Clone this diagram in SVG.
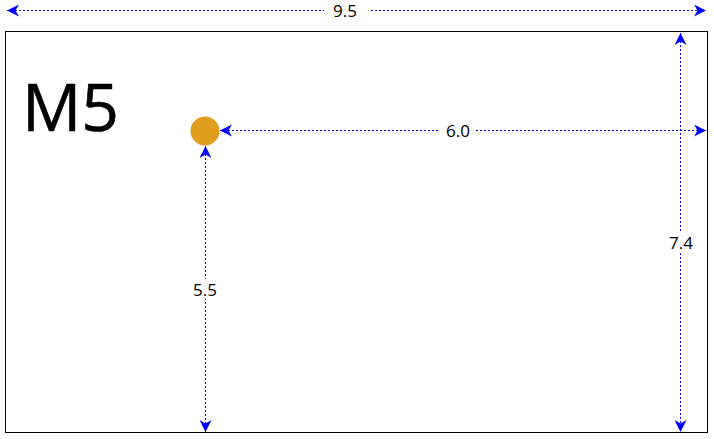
<svg xmlns="http://www.w3.org/2000/svg" width="714" height="439" viewBox="0 0 714 439">
<style>
.dim{stroke:#0000ff;stroke-width:1;stroke-dasharray:2,2;fill:none;marker-start:url(#ah);marker-end:url(#ah)}
.lbl{font-family:"Open Sans","Noto Sans",sans-serif;font-size:17px;fill:#000;text-anchor:middle}
.bg{fill:#fff}
</style>
<defs>
<marker id="ah" markerUnits="userSpaceOnUse" viewBox="0 0 12 12" refX="12" refY="6" markerWidth="12" markerHeight="12" orient="auto-start-reverse">
<path d="M0,0 L12,6 L0,12 L3.5,6 z" fill="#0000ff"/>
</marker>
</defs>
<rect x="0" y="0" width="714" height="439" fill="#fff"/>
<g id="plate">
<rect x="5.5" y="31.5" width="702" height="401" fill="none" stroke="#000" stroke-width="1"/>
<text x="22" y="131" font-family="'Open Sans','Noto Sans',sans-serif" font-size="66" fill="#000" stroke="#000" stroke-width="0.6">M5</text>
</g>
<g id="hole">
<circle cx="205" cy="131" r="14.5" fill="#e09e1e"/>
</g>
<g id="connectors">
<line class="dim" x1="7" y1="10.5" x2="706" y2="10.5"/>
<line class="dim" x1="220" y1="130.5" x2="706" y2="130.5"/>
<line class="dim" x1="680.5" y1="33" x2="680.5" y2="432"/>
<line class="dim" x1="205.5" y1="146" x2="205.5" y2="432"/>
</g>
<g id="labels">
<rect class="bg" x="324" y="1" width="45" height="20"/>
<text class="lbl" x="345" y="17">9.5</text>
<rect class="bg" x="439" y="120" width="35" height="20"/>
<text class="lbl" x="458" y="136.5">6.0</text>
<rect class="bg" x="666" y="232" width="30" height="20"/>
<text class="lbl" x="681" y="248.5">7.4</text>
<rect class="bg" x="190" y="279" width="30" height="20"/>
<text class="lbl" x="205" y="295.5">5.5</text>
</g>
</svg>
